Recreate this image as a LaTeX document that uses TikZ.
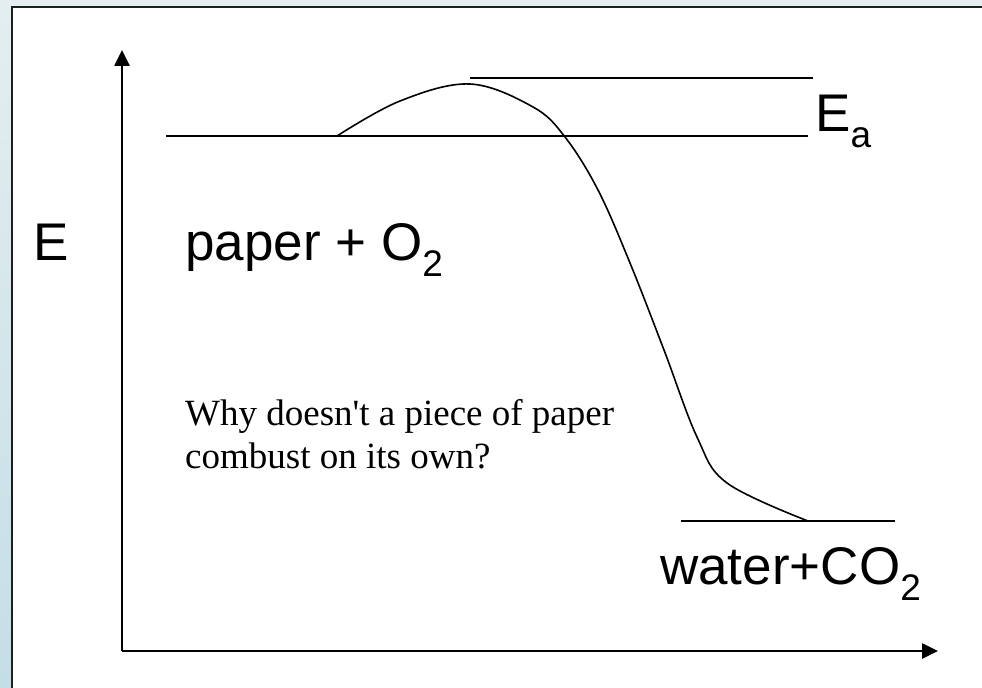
\documentclass[tikz,border=0pt]{standalone}
\usepackage{fontspec}
\setmainfont{Liberation Sans}
\newfontfamily\timesfont{Liberation Serif}
\usetikzlibrary{arrows.meta}
\newcommand\mysub[1]{\raisebox{-16bp}{\fontsize{37bp}{40bp}\selectfont #1}}
\tikzset{
  axisline/.style={line width=2.6bp, -{Triangle[length=16bp,width=15bp]}},
  levelline/.style={line width=1.6bp},
  curveline/.style={line width=1.6bp},
  biglabel/.style={inner sep=0pt, anchor=base west, font=\fontsize{53bp}{60bp}\selectfont},
  question/.style={inner sep=0pt, anchor=north west, align=left, font=\timesfont\fontsize{37bp}{43bp}\selectfont}
}
\begin{document}
\begin{tikzpicture}[x=1bp,y=-1bp]
\useasboundingbox (0,0) rectangle (982,688);
\shade[top color={rgb,255:red,228;green,238;blue,241}, bottom color={rgb,255:red,196;green,222;blue,229}] (0,0) rectangle (982,688);
\fill[white] (12,7) rectangle (990,700);
\draw[line width=1.5bp, color={rgb,255:red,30;green,30;blue,30}] (12,700) -- (12,7) -- (990,7);
% axes
\coordinate (origin) at (122,651);
\coordinate (ytip) at (122,50);
\coordinate (xtip) at (938,651);
\draw[axisline] (origin) -- (ytip);
\draw[axisline] (origin) -- (xtip);
% levels
\coordinate (r1) at (166,136); \coordinate (r2) at (808,136);
\coordinate (t1) at (470,78);  \coordinate (t2) at (813,78);
\coordinate (p1) at (681,521); \coordinate (p2) at (895,521);
\draw[levelline] (r1) -- (r2);
\draw[levelline] (t1) -- (t2);
\draw[levelline] (p1) -- (p2);
% reaction curve
\draw[curveline] plot[smooth, tension=0.6] coordinates {(337,136) (400,101) (470,84) (533,107) (565,137) (598,190) (630,263) (664,350) (697,437) (727,483) (808,521)};
% labels
\node[biglabel] (elabel) at (33,260) {E};
\node[biglabel] (reactants) at (185,260) {paper + O\mysub{2}};
\node[biglabel] (ealabel) at (815,132) {E\mysub{a}};
\node[biglabel] (products) at (660,584) {water+CO\mysub{2}};
\node[question] (q) at (185,399) {Why doesn't a piece of paper\\combust on its own?};
\end{tikzpicture}
\end{document}
